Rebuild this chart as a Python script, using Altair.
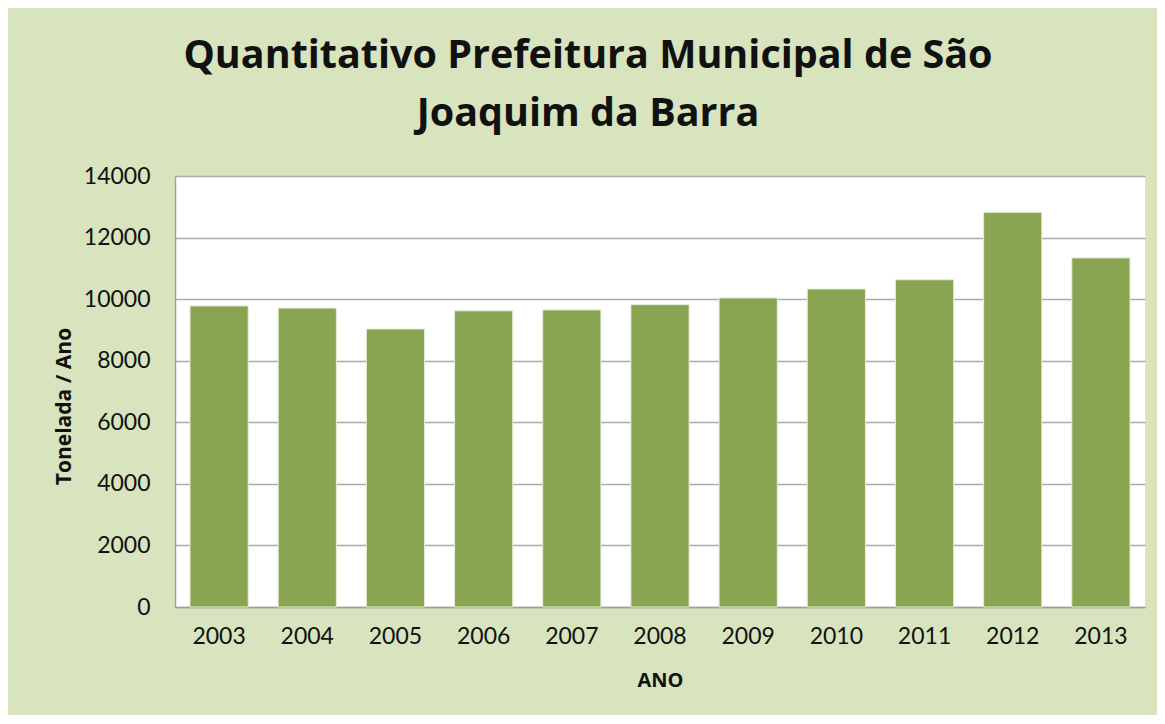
import altair as alt
import pandas as pd

anos = ["2003", "2004", "2005", "2006", "2007", "2008", "2009", "2010", "2011", "2012", "2013"]
toneladas = [9780, 9710, 9030, 9620, 9650, 9820, 10040, 10330, 10630, 12820, 11340]
y_ticks = [0, 2000, 4000, 6000, 8000, 10000, 12000, 14000]

df = pd.DataFrame({"ANO": anos, "Tonelada": toneladas})

FONT = "Lato"
TFONT = "Open Sans"

chart = alt.Chart(df).mark_bar(
    color="#8AA552", stroke="#E4ECD6", strokeWidth=1
).encode(
    x=alt.X("ANO:N", title="ANO", sort=anos,
            scale=alt.Scale(paddingInner=0.34, paddingOuter=0.17),
            axis=alt.Axis(labelAngle=0, labelFontSize=23, labelFont=FONT, labelColor="#111111",
                          labelPadding=18, ticks=False, domainColor="#A0A0A0", domainWidth=1.5,
                          titleFont=TFONT, titleFontSize=20, titleFontWeight="bold",
                          titleColor="#111111", titlePadding=22)),
    y=alt.Y("Tonelada:Q", title="Tonelada / Ano",
            scale=alt.Scale(domain=[0, 14000], nice=False),
            axis=alt.Axis(values=y_ticks, format="d", labelFontSize=23, labelFont=FONT,
                          labelColor="#111111", labelPadding=25, ticks=False,
                          domainColor="#A0A0A0", domainWidth=1.5,
                          grid=True, gridColor="#ABABAB", gridWidth=1.5,
                          titleFont=TFONT, titleFontSize=21, titleFontWeight="bold",
                          titleColor="#111111", titlePadding=9, titleY=230)),
).properties(
    width=970,
    height=431,
    title=alt.TitleParams(
        text=["Quantitativo Prefeitura Municipal de São", "Joaquim da Barra"],
        font=TFONT, fontSize=39.5, fontWeight="bold", color="#111111",
        anchor="middle", dx=-72, lineHeight=58, offset=31,
    ),
    autosize=alt.AutoSizeParams(type="none"),
    padding={"left": 167, "top": 168, "right": 12, "bottom": 108},
    background="#D7E4BD",
).configure_view(
    fill="white", stroke=None
)

chart.save("out.html", embed_options={"renderer": "svg", "actions": False})
